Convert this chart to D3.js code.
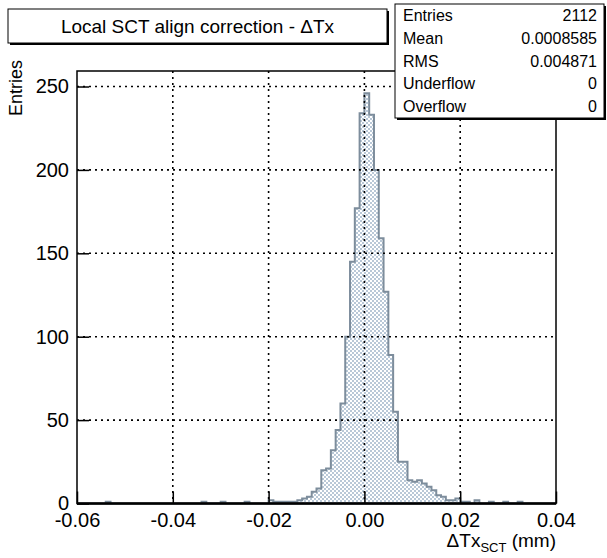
<!DOCTYPE html>
<html><head><meta charset="utf-8">
<script src="https://cdn.jsdelivr.net/npm/d3@7"></script>
<style>body{margin:0;background:#fff} svg{display:block} text{font-family:"Liberation Sans",Arial,Helvetica,sans-serif}</style>
</head><body>
<script>
// ---- data ----
const binLow = -0.06, binHigh = 0.04, nBins = 100;
const counts = [
  0,0,0,0,0,0,1,0,0,0,
  0,0,0,0,0,0,0,0,0,0,
  0,0,0,0,0,0,1,0,0,0,
  1,0,0,0,0,1,0,0,0,0,
  2,1,1,1,1,1,2,3,4,7,
  9,20,21,32,44,60,100,145,177,234,
  246,233,200,159,127,89,55,25,25,14,
  13,14,12,10,8,5,4,2,2,3,
  1,1,0,2,0,0,1,0,0,1,
  0,0,1,0,0,0,0,0,0,0
];
const xTicks = [-0.06,-0.04,-0.02,0,0.02,0.04];
const xTickLabels = ["-0.06","-0.04","-0.02","0.00","0.02","0.04"];
const yTicks = [0,50,100,150,200,250];
const yMax = 259.3;
const titleText = "Local SCT align correction - \u0394Tx";
const statsNames = ["Entries","Mean","RMS","Underflow","Overflow"];
const statsValues = ["2112","0.0008585","0.004871","0","0"];

// ---- layout ----
const W = 607, H = 558;
const fx0 = 77, fx1 = 556, fy0 = 71, fy1 = 503.5;

const svg = d3.select("body").append("svg").attr("width", W).attr("height", H);
const defs = svg.append("defs");
const pat = defs.append("pattern").attr("id","chk").attr("patternUnits","userSpaceOnUse")
  .attr("width",4).attr("height",4);
pat.append("rect").attr("width",4).attr("height",4).attr("fill","#ffffff");
pat.append("rect").attr("x",0).attr("y",0).attr("width",2).attr("height",2).attr("fill","#b9c8d7");
pat.append("rect").attr("x",2).attr("y",2).attr("width",2).attr("height",2).attr("fill","#b9c8d7");

const x = d3.scaleLinear().domain([binLow, binHigh]).range([fx0, fx1]);
const y = d3.scaleLinear().domain([0, yMax]).range([fy1, fy0]);
const bw = (binHigh - binLow) / nBins;

// histogram path (step outline)
const pts = [[binLow, 0]];
counts.forEach((c, i) => {
  pts.push([binLow + i * bw, c]);
  pts.push([binLow + (i + 1) * bw, c]);
});
pts.push([binHigh, 0]);
const line = d3.line().x(d => x(d[0])).y(d => y(d[1]));
svg.append("path").attr("d", line(pts) + "Z")
  .attr("fill", "url(#chk)").attr("stroke", "#7d8d9c").attr("stroke-width", 2)
  .attr("stroke-linejoin","miter");

// grid
const g = svg.append("g");
xTicks.filter(v => v > binLow && v < binHigh).forEach(v => {
  g.append("line").attr("x1", x(v)).attr("x2", x(v)).attr("y1", fy0).attr("y2", fy1)
    .attr("stroke", "#000").attr("stroke-width", 1.6).attr("stroke-dasharray", "2,4");
});
yTicks.filter(v => v > 0).forEach(v => {
  g.append("line").attr("x1", fx0).attr("x2", fx1).attr("y1", y(v)).attr("y2", y(v))
    .attr("stroke", "#000").attr("stroke-width", 1.6).attr("stroke-dasharray", "2,4");
});

// axes
const xAxis = d3.axisBottom(x).tickValues(xTicks).tickSize(-12).tickPadding(9)
  .tickFormat((d, i) => xTickLabels[i]);
const gx = svg.append("g").attr("transform", `translate(0,${fy1})`).call(xAxis);
gx.select(".domain").remove();
gx.selectAll(".tick line").attr("stroke", "#000").attr("stroke-width", 1.5);
gx.selectAll(".tick text").attr("font-size", 20).attr("fill", "#000")
  .attr("font-family", '"Liberation Sans",Arial,sans-serif');

const yAxis = d3.axisLeft(y).tickValues(yTicks).tickSize(-12).tickPadding(8);
const gy = svg.append("g").attr("transform", `translate(${fx0},0)`).call(yAxis);
gy.select(".domain").remove();
gy.selectAll(".tick line").attr("stroke", "#000").attr("stroke-width", 1.5);
gy.selectAll(".tick text").attr("font-size", 20).attr("fill", "#000")
  .attr("font-family", '"Liberation Sans",Arial,sans-serif');

// frame
svg.append("rect").attr("x", fx0).attr("y", fy0).attr("width", fx1 - fx0).attr("height", fy1 - fy0)
  .attr("fill", "none").attr("stroke", "#000").attr("stroke-width", 1.5);
svg.append("line").attr("x1", fx0).attr("x2", fx1).attr("y1", fy1).attr("y2", fy1)
  .attr("stroke", "#000").attr("stroke-width", 2.5);

// axis titles
svg.append("text").attr("transform", `translate(22,60) rotate(-90)`)
  .attr("text-anchor", "end").attr("font-size", 18).text("Entries");
const xt = svg.append("text").attr("x", fx1).attr("y", 547).attr("text-anchor", "end").attr("font-size", 19);
xt.append("tspan").text("\u0394Tx");
xt.append("tspan").attr("font-size", 13).attr("dy", 5).text("SCT");
xt.append("tspan").attr("dy", -5).text(" (mm)");

// title box
svg.append("rect").attr("x", 10).attr("y", 11).attr("width", 379).attr("height", 34).attr("fill", "#000");
svg.append("rect").attr("x", 8).attr("y", 9).attr("width", 379).attr("height", 34)
  .attr("fill", "#fff").attr("stroke", "#000").attr("stroke-width", 1);
svg.append("text").attr("x", 197.5).attr("y", 33).attr("text-anchor", "middle")
  .attr("font-size", 19).text(titleText);

// stats box
const sx = 395, sy = 4, sw = 209, sh = 114;
svg.append("rect").attr("x", sx + 2).attr("y", sy + 2).attr("width", sw).attr("height", sh).attr("fill", "#000");
svg.append("rect").attr("x", sx).attr("y", sy).attr("width", sw).attr("height", sh)
  .attr("fill", "#fff").attr("stroke", "#000").attr("stroke-width", 1);
const rowH = sh / statsNames.length;
statsNames.forEach((n, i) => {
  const cy = sy + rowH * (i + 0.5) + 5.5;
  svg.append("text").attr("x", sx + 8).attr("y", cy).attr("font-size", 16).text(n);
  svg.append("text").attr("x", sx + sw - 7).attr("y", cy).attr("text-anchor", "end")
    .attr("font-size", 16).text(statsValues[i]);
});
</script>
</body></html>
